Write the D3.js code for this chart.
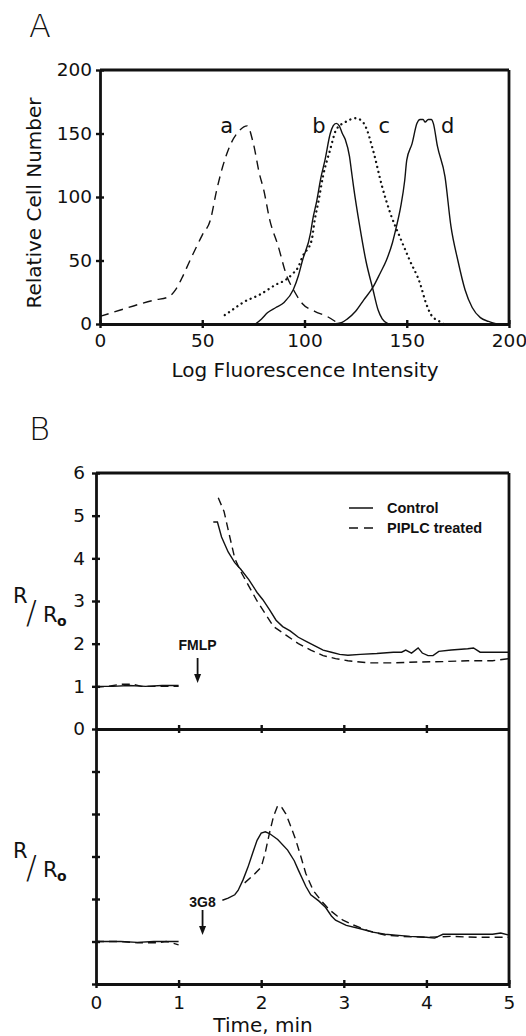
<!DOCTYPE html>
<html><head><meta charset="utf-8">
<script src="https://cdn.jsdelivr.net/npm/d3@7"></script>
<style>
html,body{margin:0;padding:0;background:#fff;}
svg{display:block;}
text{fill:#111;}
</style></head>
<body>
<svg id="chart" width="526" height="1036"></svg>
<script>
// ---------- Panel A data (Log Fluorescence Intensity, Relative Cell Number) ----------
const histTicksX = [0, 50, 100, 150, 200];
const histTicksY = [0, 50, 100, 150, 200];
const curveA = [[0,6],[10,11],[20,16],[27,19],[33,21],[37,27],[40,36],[44,50],[50,70],[54,82],[57,105],[60,124],[64,142],[68,152],[72,156],[75,142],[78,118],[80,106],[83,82],[87,62],[91.5,37],[94.6,27],[99,16],[105,10],[111,6],[116,1]];
const curveB = [[76,0],[79,4],[82,9],[86,13],[90,17],[94.5,27],[97,38],[99,50],[103,72],[104,82],[106,97],[108,115],[110,129],[112.6,150],[114,156],[115.5,158],[117,156],[118.5,150],[120,145],[122,132],[123,120],[124,108],[127,77],[130,50],[133.5,27],[136,11],[138,4],[141,0]];
const curveC = [[61,7],[66,12.6],[70,17],[78,23],[86,31],[91,35],[94.5,40],[97,45],[99,53],[103.5,66],[105,82],[107,98],[109,116],[112.5,137],[115.5,153],[120,159],[125,162],[128,160],[130,155],[133.5,137],[138,108],[142,87],[146.5,69],[151.5,50],[156.5,32],[159.5,16],[162,7],[166,2],[168,0]];
const curveD = [[114,0],[118,1],[121,4],[125,10],[129,19],[133.5,29],[137,40],[140,50],[143,64],[145,77],[147,92],[149,113],[150,129],[152.6,142],[155,158],[156.5,161],[158,161],[159,159],[160.5,161],[162,161],[163,158],[165,140],[168.7,116],[171.6,77],[175,50],[178.5,27],[182,13],[186,5],[190,2],[194,0]];
const curveLabels = ["a","b","c","d"];
const curveLabelPos = [[62,156],[107,156],[139,156],[170,156]];

// ---------- Panel B data (Time, min ; R/Ro) ----------
const timeTicks = [0, 1, 2, 3, 4, 5];
const ratioTicks = [0, 1, 2, 3, 4, 5, 6];
const topControlBase = [[0,1.0],[0.2,1.0],[0.4,1.02],[0.6,1.0],[0.8,1.02],[1.0,1.02]];
const topPiplcBase = [[0,0.98],[0.15,1.0],[0.3,1.05],[0.45,1.05],[0.55,1.0],[0.8,1.0],[1.0,1.0]];
const topControl = [[1.42,4.85],[1.47,4.85],[1.52,4.5],[1.6,4.15],[1.68,3.9],[1.75,3.75],[1.85,3.5],[1.95,3.2],[2.02,3.03],[2.1,2.8],[2.18,2.55],[2.26,2.4],[2.35,2.3],[2.45,2.15],[2.55,2.05],[2.65,1.95],[2.75,1.85],[2.85,1.8],[2.95,1.75],[3.05,1.73],[3.2,1.75],[3.4,1.77],[3.6,1.8],[3.7,1.8],[3.75,1.85],[3.82,1.78],[3.9,1.9],[3.95,1.78],[4.02,1.72],[4.08,1.72],[4.15,1.82],[4.3,1.85],[4.5,1.88],[4.57,1.9],[4.65,1.8],[4.8,1.8],[5.0,1.8]];
const topPiplc = [[1.48,5.42],[1.55,5.1],[1.62,4.5],[1.68,4.0],[1.75,3.7],[1.85,3.35],[1.95,3.0],[2.05,2.7],[2.15,2.4],[2.3,2.2],[2.45,2.0],[2.6,1.85],[2.75,1.72],[2.9,1.65],[3.05,1.6],[3.3,1.55],[3.6,1.55],[3.9,1.57],[4.2,1.58],[4.5,1.6],[4.8,1.6],[5.0,1.65]];
const botControlBase = [[0,1.0],[0.3,1.0],[0.5,0.98],[0.7,1.0],[1.0,1.0]];
const botPiplcBase = [[0,1.0],[0.3,1.0],[0.5,0.97],[0.75,0.97],[0.85,1.0],[0.95,0.95],[1.0,0.92]];
const botControl = [[1.53,1.97],[1.6,2.02],[1.68,2.1],[1.72,2.2],[1.78,2.45],[1.84,2.75],[1.9,3.1],[1.95,3.38],[2.0,3.55],[2.05,3.58],[2.1,3.54],[2.2,3.4],[2.32,3.15],[2.4,2.9],[2.45,2.68],[2.54,2.3],[2.6,2.1],[2.7,1.95],[2.78,1.8],[2.85,1.6],[2.9,1.5],[3.03,1.38],[3.2,1.3],[3.35,1.22],[3.5,1.17],[3.63,1.15],[3.8,1.12],[4.0,1.1],[4.1,1.08],[4.2,1.17],[4.5,1.17],[4.8,1.17],[4.9,1.2],[5.0,1.15]];
const botPiplc = [[1.8,2.38],[1.9,2.55],[2.0,2.75],[2.05,3.1],[2.1,3.55],[2.15,3.95],[2.2,4.2],[2.25,4.15],[2.3,4.0],[2.36,3.7],[2.42,3.38],[2.48,3.0],[2.54,2.6],[2.63,2.2],[2.73,1.95],[2.83,1.74],[2.92,1.6],[2.99,1.5],[3.1,1.4],[3.3,1.25],[3.5,1.15],[3.7,1.12],[4.0,1.1],[4.3,1.12],[4.6,1.1],[5.0,1.1]];
const seriesNames = ["Control", "PIPLC treated"];
const stimuli = [["FMLP", 1.23], ["3G8", 1.29]];

// ---------- drawing ----------
const svg = d3.select("#chart");
const FONT = "'DejaVu Sans', sans-serif";
const BOLD = "'Liberation Sans', Arial, sans-serif";
const TICK_FS = 18.5;
const TITLE_FS = 20;

function styleAxis(g, w) {
  g.select(".domain").attr("stroke", "#111").attr("stroke-width", w);
  g.selectAll(".tick line").attr("stroke", "#111").attr("stroke-width", 2.4);
  g.selectAll("text").attr("fill", "#111");
}

// Panel A
const xA = d3.scaleLinear().domain([0, 200]).range([100, 509]);
const yA = d3.scaleLinear().domain([0, 200]).range([324, 70]);

svg.append("text").attr("x", 29).attr("y", 37).attr("font-family", FONT)
  .attr("font-weight", 200).attr("font-size", 32).text("A");

svg.append("line").attr("x1", xA(0)).attr("x2", xA(200)).attr("y1", yA(200)).attr("y2", yA(200)).attr("stroke", "#111").attr("stroke-width", 2.8);
svg.append("line").attr("x1", xA(200)).attr("x2", xA(200)).attr("y1", yA(200)).attr("y2", yA(0)).attr("stroke", "#111").attr("stroke-width", 2.8);

const gxA = svg.append("g").attr("transform", `translate(0,${yA(0)})`)
  .call(d3.axisBottom(xA).tickValues(histTicksX).tickSizeInner(4).tickSizeOuter(0).tickFormat(d3.format("d")));
gxA.selectAll(".tick line").attr("y1", -4).attr("y2", 4);
gxA.selectAll("text").attr("y", 10).attr("font-family", FONT).attr("font-size", TICK_FS);
styleAxis(gxA, 2.8);

const gyA = svg.append("g").attr("transform", `translate(${xA(0)},0)`)
  .call(d3.axisLeft(yA).tickValues(histTicksY).tickSizeInner(4).tickSizeOuter(0).tickPadding(4).tickFormat(d3.format("d")));
gyA.selectAll(".tick line").attr("x1", -4).attr("x2", 4);
gyA.selectAll("text").attr("font-family", FONT).attr("font-size", TICK_FS);
styleAxis(gyA, 2.8);

svg.append("text").attr("transform", "translate(41,203) rotate(-90)").attr("text-anchor", "middle")
  .attr("font-family", FONT).attr("font-size", TITLE_FS).text("Relative Cell Number");
svg.append("text").attr("x", 305).attr("y", 377).attr("text-anchor", "middle")
  .attr("font-family", FONT).attr("font-size", TITLE_FS).text("Log Fluorescence Intensity");

const lineA = d3.line().x(d => xA(d[0])).y(d => yA(d[1])).curve(d3.curveMonotoneX);
const histStyles = [
  {data: curveA, dash: "9,6", cap: "butt"},
  {data: curveB, dash: null, cap: "butt"},
  {data: curveC, dash: "0.1,5", cap: "round", w: 2.3},
  {data: curveD, dash: null, cap: "butt"}
];
histStyles.forEach(s => {
  svg.append("path").datum(s.data).attr("d", lineA).attr("fill", "none").attr("stroke", "#111")
    .attr("stroke-width", s.w || 1.4).attr("stroke-dasharray", s.dash).attr("stroke-linecap", s.cap);
});
curveLabels.forEach((t, i) => {
  svg.append("text").attr("x", xA(curveLabelPos[i][0])).attr("y", yA(curveLabelPos[i][1]))
    .attr("dy", "0.35em").attr("text-anchor", "middle")
    .attr("font-family", FONT).attr("font-size", 21).text(t);
});

// Panel B
const xB = d3.scaleLinear().domain([0, 5]).range([96, 509]);
const yB1 = d3.scaleLinear().domain([0, 6]).range([729, 473]);
const yB2 = d3.scaleLinear().domain([0, 6]).range([984, 729]);

svg.append("text").attr("x", 29).attr("y", 440).attr("font-family", FONT)
  .attr("font-weight", 200).attr("font-size", 32).text("B");

svg.append("line").attr("x1", xB(0)).attr("x2", xB(5)).attr("y1", yB1(6)).attr("y2", yB1(6)).attr("stroke", "#111").attr("stroke-width", 2.8);
svg.append("line").attr("x1", xB(5)).attr("x2", xB(5)).attr("y1", yB1(6)).attr("y2", yB2(0)).attr("stroke", "#111").attr("stroke-width", 2.8);

const gxMid = svg.append("g").attr("transform", `translate(0,${yB1(0)})`)
  .call(d3.axisBottom(xB).tickValues(timeTicks.slice(1, 5)).tickSizeInner(4).tickSizeOuter(0).tickFormat(""));
gxMid.selectAll(".tick line").attr("y1", -4).attr("y2", 4);
styleAxis(gxMid, 2.8);

const gxB = svg.append("g").attr("transform", `translate(0,${yB2(0)})`)
  .call(d3.axisBottom(xB).tickValues(timeTicks).tickSizeInner(4).tickSizeOuter(0).tickFormat(d3.format("d")));
gxB.selectAll(".tick line").attr("y1", -4).attr("y2", 4);
gxB.selectAll("text").attr("y", 12).attr("font-family", FONT).attr("font-size", TICK_FS);
styleAxis(gxB, 2.8);

const gyB1 = svg.append("g").attr("transform", `translate(${xB(0)},0)`)
  .call(d3.axisLeft(yB1).tickValues(ratioTicks).tickSizeInner(4).tickSizeOuter(0).tickPadding(7).tickFormat(d3.format("d")));
gyB1.selectAll(".tick line").attr("x1", -4).attr("x2", 4);
gyB1.selectAll("text").attr("font-family", FONT).attr("font-size", TICK_FS);
styleAxis(gyB1, 2.8);

const gyB2 = svg.append("g").attr("transform", `translate(${xB(0)},0)`)
  .call(d3.axisLeft(yB2).tickValues(ratioTicks.slice(0, 6)).tickSizeInner(4).tickSizeOuter(0).tickFormat(""));
gyB2.selectAll(".tick line").attr("x1", -4).attr("x2", 4);
styleAxis(gyB2, 2.8);

svg.append("text").attr("x", 263).attr("y", 1032).attr("text-anchor", "middle")
  .attr("font-family", FONT).attr("font-size", TITLE_FS).text("Time, min");

function ratioLabel(y0) {
  const g = svg.append("g").attr("transform", `translate(0,${y0})`).attr("font-family", FONT);
  g.append("text").attr("x", 13).attr("y", 0).attr("font-size", 21).text("R");
  g.append("text").attr("x", 26).attr("y", 20).attr("font-size", 32).attr("font-weight", 200).text("/");
  g.append("text").attr("x", 43).attr("y", 19).attr("font-size", 21).text("R");
  g.append("text").attr("x", 57).attr("y", 23).attr("font-size", 14).attr("font-weight", "bold").text("o");
}
ratioLabel(603);
ratioLabel(858);

const lineB1 = d3.line().x(d => xB(d[0])).y(d => yB1(d[1]));
const lineB2 = d3.line().x(d => xB(d[0])).y(d => yB2(d[1]));
const traces = [
  [topControlBase, lineB1, null], [topPiplcBase, lineB1, "8,5"],
  [topControl, lineB1, null], [topPiplc, lineB1, "8,5"],
  [botControlBase, lineB2, null], [botPiplcBase, lineB2, "8,5"],
  [botControl, lineB2, null], [botPiplc, lineB2, "8,5"]
];
traces.forEach(([data, gen, dash]) => {
  svg.append("path").datum(data).attr("d", gen).attr("fill", "none").attr("stroke", "#111")
    .attr("stroke-width", 1.4).attr("stroke-dasharray", dash);
});

// legend
const legY = [508, 528];
seriesNames.forEach((n, i) => {
  svg.append("line").attr("x1", 349).attr("x2", 373).attr("y1", legY[i]).attr("y2", legY[i])
    .attr("stroke", "#111").attr("stroke-width", 1.5).attr("stroke-dasharray", i ? "9,6" : null);
  svg.append("text").attr("x", 387).attr("y", legY[i]).attr("dy", "0.35em")
    .attr("font-family", BOLD).attr("font-weight", "bold").attr("font-size", 14.5).text(n);
});

// stimulus arrows
const arrowTop = [[645, 658, 683], [902, 910, 935]];
stimuli.forEach(([name, t], i) => {
  const x = xB(t);
  const [ty, a0, a1] = arrowTop[i];
  svg.append("text").attr("x", x).attr("y", ty).attr("dy", "0.35em").attr("text-anchor", "middle")
    .attr("font-family", BOLD).attr("font-weight", "bold").attr("font-size", 14).text(name);
  svg.append("line").attr("x1", x).attr("x2", x).attr("y1", a0).attr("y2", a1 - 6).attr("stroke", "#111").attr("stroke-width", 1.8);
  svg.append("path").attr("d", `M${x - 3.5},${a1 - 9} L${x + 3.5},${a1 - 9} L${x},${a1} Z`).attr("fill", "#111");
});
</script>
</body></html>
